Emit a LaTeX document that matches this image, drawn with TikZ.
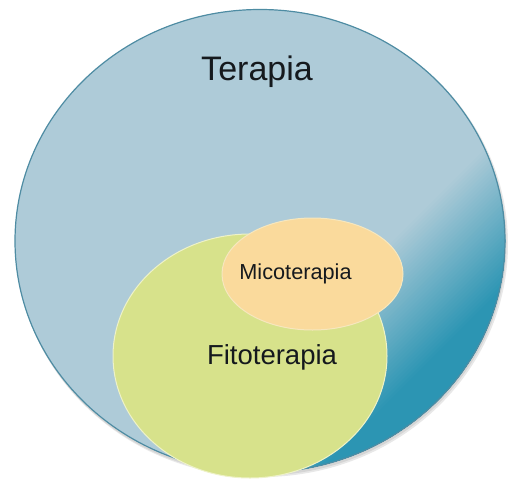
\documentclass[tikz,border=0pt]{standalone}
\usepackage{fontspec}
\setmainfont{Liberation Sans}
\definecolor{tlight}{HTML}{AECBD8}
\definecolor{tdark}{HTML}{2C95B3}
\definecolor{tedge}{HTML}{4E8CA3}
\definecolor{fito}{HTML}{D7E28B}
\definecolor{fitoedge}{HTML}{EEF2C8}
\definecolor{mico}{HTML}{FADA9C}
\definecolor{micoedge}{HTML}{F6E7BE}
\definecolor{txt}{HTML}{15191D}
\usetikzlibrary{shapes.geometric}
\tikzset{
  bubble/.style={ellipse, inner sep=0pt, outer sep=0pt},
  lbl/.style={text=txt, inner sep=0pt}
}
\begin{document}
\begin{tikzpicture}[x=1pt,y=-1pt]
\useasboundingbox (0,0) rectangle (508,479);
% soft shadow
\fill[gray, opacity=0.18] (262,244) ellipse [x radius=246, y radius=233];
\fill[gray, opacity=0.18] (261,243) ellipse [x radius=245.5, y radius=232.5];
% outer circle fill with gradient toward the lower right
\begin{scope}
  \clip (260,241) ellipse [x radius=245, y radius=231.5];
  \fill[tlight] (0,0) rectangle (508,479);
  \foreach \s in {630,634,...,790} {
    \pgfmathsetmacro\p{100*(790-\s)/160}
    \fill[tlight!\p!tdark] (\s-600,600) -- (\s+600,-600) -- (\s+1600,400) -- (\s+400,1600) -- cycle;
  }
\end{scope}
\node[bubble, minimum width=490pt, minimum height=463pt, draw=tedge, line width=1.2pt] (ter) at (260,241) {};
% Fitoterapia
\node[bubble, minimum width=274pt, minimum height=244pt, fill=fito, draw=fitoedge, line width=1pt] (fit) at (250,356) {};
% Micoterapia
\node[bubble, minimum width=181pt, minimum height=112pt, fill=mico, draw=micoedge, line width=1pt] (mic) at (312.5,274) {};
% labels
\node[lbl, font=\fontsize{34}{40}\selectfont] (tl) at (257,72) {Terapia};
\node[lbl, font=\fontsize{21.7}{26}\selectfont] (ml) at (295.5,273.5) {Micoterapia};
\node[lbl, font=\fontsize{27.5}{32}\selectfont] (fl) at (272,357.5) {Fitoterapia};
\end{tikzpicture}
\end{document}
